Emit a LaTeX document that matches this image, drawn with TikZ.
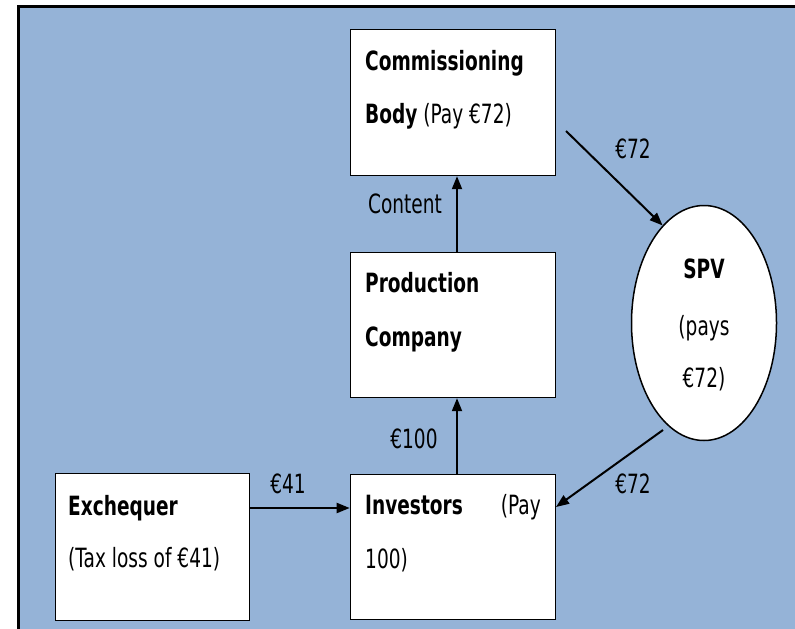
\documentclass[tikz,border=0pt]{standalone}
\usepackage{fontspec}
\setmainfont{DejaVu Sans}[FakeStretch=0.70]
\usetikzlibrary{arrows.meta,shapes.geometric}
\definecolor{bgblue}{RGB}{149,179,215}
\begin{document}
\begin{tikzpicture}[x=1pt,y=-1pt,
  box/.style={draw=black,line width=1.5pt,fill=white,anchor=north west,inner sep=0pt},
  txt/.style={anchor=base west,inner sep=0pt,font=\fontsize{26.5}{30}\selectfont},
  ctxt/.style={anchor=base,inner sep=0pt,font=\fontsize{26.5}{30}\selectfont},
  flow/.style={line width=2pt,-{Triangle[length=13pt,width=10pt]}}]
\useasboundingbox (0,0) rectangle (795,629);
\fill[white] (0,0) rectangle (795,629);
\fill[bgblue] (17,5) rectangle (795,629);
\draw[line width=3.3pt] (18.6,629) -- (18.6,6.6) -- (795,6.6);

% boxes
\node[box,minimum width=205pt,minimum height=146pt] (cb) at (349.7,28.7) {};
\node[box,minimum width=205pt,minimum height=145pt] (pc) at (349.7,251.7) {};
\node[box,minimum width=205pt,minimum height=145pt] (inv) at (349.7,473.7) {};
\node[box,minimum width=194pt,minimum height=147pt] (exq) at (54.7,472.7) {};
\node[draw=black,line width=1.5pt,fill=white,ellipse,minimum width=145pt,minimum height=235pt,inner sep=0pt] (spv) at (704,323) {};

% box texts
\node[txt] (cb1) at (365,70) {\textbf{Commissioning}};
\node[txt] (cb2) at (365,123) {\textbf{Body} (Pay €72)};
\node[txt] (pc1) at (365,292) {\textbf{Production}};
\node[txt] (pc2) at (365,346) {\textbf{Company}};
\node[txt] (inv1) at (365,514) {\textbf{Investors}};
\node[txt,anchor=base east] (inv2) at (541,514) {(Pay};
\node[txt] (inv3) at (365,568) {100)};
\node[txt] (exq1) at (68,515) {\textbf{Exchequer}};
\node[txt] (exq2) at (68,567) {(Tax loss of €41)};
\node[ctxt] (spv1) at (704,278) {\textbf{SPV}};
\node[ctxt] (spv2) at (704,335) {(pays};
\node[ctxt] (spv3) at (704,387) {€72)};

% connector helpers
\coordinate (xv) at (457,0);
\coordinate (yx) at (0,508);
\coordinate (s1) at (566,131);
\coordinate (s2) at (663,430);
\coordinate (e2) at (556,507);

% connectors
\draw[flow] (inv.north -| xv) -- (pc.south -| xv);
\draw[flow] (pc.north -| xv) -- (cb.south -| xv);
\draw[flow] (exq.east |- yx) -- (inv.west |- yx);
\draw[flow] (s1) -- (spv.113);
\draw[flow] (s2) -- (e2);

% labels
\node[ctxt] (l1) at (633,158) {€72};
\node[ctxt] (l2) at (405,213) {Content};
\node[ctxt] (l3) at (414,448) {€100};
\node[ctxt] (l4) at (288,493) {€41};
\node[ctxt] (l5) at (633,493) {€72};
\end{tikzpicture}
\end{document}
